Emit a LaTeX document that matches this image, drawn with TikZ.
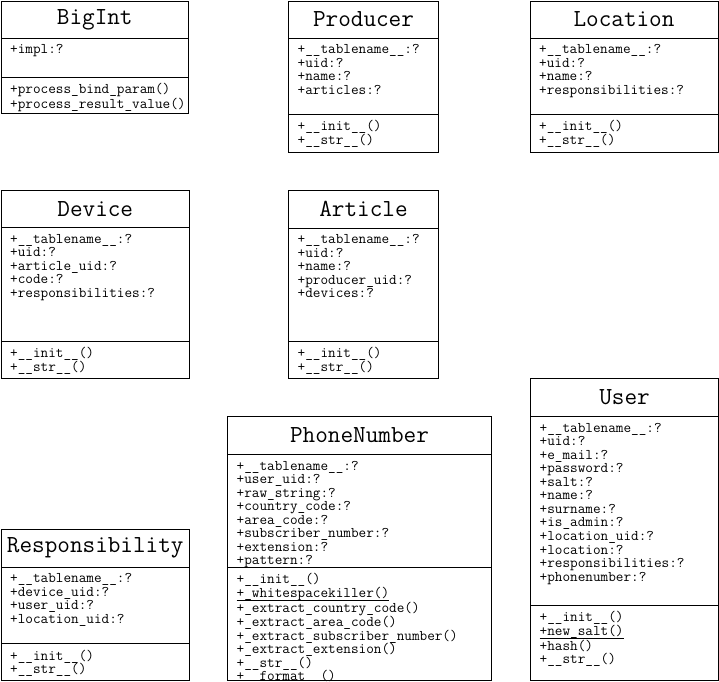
\documentclass[tikz,border=0pt]{standalone}
\usepackage{fontspec}
\newcommand{\headfont}{\fontsize{24.5}{28}\selectfont\ttfamily}
\newcommand{\entryfont}{\fontsize{14.8}{13.55}\selectfont\ttfamily}
% underline at the height of the underscores
\newcommand{\classop}[1]{\setbox0=\hbox{#1}\rlap{\vrule width\wd0 height -3.0pt depth 3.7pt}\box0}
\begin{document}
\begin{tikzpicture}[x=1pt,y=-1pt]
\tikzset{head/.style={draw, rectangle, outer sep=0pt, inner sep=0pt, anchor=north west, font=\headfont},
  compart/.style={draw, rectangle, outer sep=0pt, inner sep=0pt, anchor=north west},
  entries/.style={anchor=north west, align=left, inner xsep=9pt, inner ysep=6.3pt, font=\entryfont, execute at begin node=\strut}}
    \useasboundingbox (0,0) rectangle (719,681);

    % BigInt
    \node[head, minimum width=187.5, minimum height=37] at (1,1) (bigint) {BigInt};
    \node[compart, minimum width=187.5, minimum height=39] at (bigint.south west) (bigint-attrs) {};
    \node[compart, minimum width=187.5, minimum height=36] at (bigint-attrs.south west) (bigint-ops) {};
    \node[entries] at (bigint-attrs.north west) {+impl:?};
    \node[entries] at (bigint-ops.north west) {+process\_bind\_param()\\+process\_result\_value()};

    % Producer
    \node[head, minimum width=150, minimum height=37] at (288.5,1) (producer) {Producer};
    \node[compart, minimum width=150, minimum height=76] at (producer.south west) (producer-attrs) {};
    \node[compart, minimum width=150, minimum height=38] at (producer-attrs.south west) (producer-ops) {};
    \node[entries] at (producer-attrs.north west) {+\_\_tablename\_\_:?\\+uid:?\\+name:?\\+articles:?};
    \node[entries] at (producer-ops.north west) {+\_\_init\_\_()\\+\_\_str\_\_()};

    % Location
    \node[head, minimum width=188, minimum height=37] at (530,1) (location) {Location};
    \node[compart, minimum width=188, minimum height=76] at (location.south west) (location-attrs) {};
    \node[compart, minimum width=188, minimum height=38] at (location-attrs.south west) (location-ops) {};
    \node[entries] at (location-attrs.north west) {+\_\_tablename\_\_:?\\+uid:?\\+name:?\\+responsibilities:?};
    \node[entries] at (location-ops.north west) {+\_\_init\_\_()\\+\_\_str\_\_()};

    % Device
    \node[head, minimum width=188.5, minimum height=37.5] at (1,190) (device) {Device};
    \node[compart, minimum width=188.5, minimum height=113.5] at (device.south west) (device-attrs) {};
    \node[compart, minimum width=188.5, minimum height=37.5] at (device-attrs.south west) (device-ops) {};
    \node[entries] at (device-attrs.north west) {+\_\_tablename\_\_:?\\+uid:?\\+article\_uid:?\\+code:?\\+responsibilities:?};
    \node[entries] at (device-ops.north west) {+\_\_init\_\_()\\+\_\_str\_\_()};

    % Article
    \node[head, minimum width=150, minimum height=38] at (288.5,190) (article) {Article};
    \node[compart, minimum width=150, minimum height=113] at (article.south west) (article-attrs) {};
    \node[compart, minimum width=150, minimum height=37.5] at (article-attrs.south west) (article-ops) {};
    \node[entries] at (article-attrs.north west) {+\_\_tablename\_\_:?\\+uid:?\\+name:?\\+producer\_uid:?\\+devices:?};
    \node[entries] at (article-ops.north west) {+\_\_init\_\_()\\+\_\_str\_\_()};

    % PhoneNumber
    \node[head, minimum width=264, minimum height=38] at (227.5,416.5) (phonenumber) {PhoneNumber};
    \node[compart, minimum width=264, minimum height=112.5] at (phonenumber.south west) (phonenumber-attrs) {};
    \node[compart, minimum width=264, minimum height=113] at (phonenumber-attrs.south west) (phonenumber-ops) {};
    \node[entries] at (phonenumber-attrs.north west) {+\_\_tablename\_\_:?\\+user\_uid:?\\+raw\_string:?\\+country\_code:?\\+area\_code:?\\+subscriber\_number:?\\+extension:?\\+pattern:?};
    \node[entries, inner ysep=6pt] at (phonenumber-ops.north west) {+\_\_init\_\_()\\\classop{+\_whitespacekiller()}\\+\_extract\_country\_code()\\+\_extract\_area\_code()\\+\_extract\_subscriber\_number()\\+\_extract\_extension()\\+\_\_str\_\_()\\+\_\_format\_\_()};

    % Responsibility
    \node[head, minimum width=188.5, minimum height=38] at (1,529) (responsibility) {Responsibility};
    \node[compart, minimum width=188.5, minimum height=76.5] at (responsibility.south west) (responsibility-attrs) {};
    \node[compart, minimum width=188.5, minimum height=36.5] at (responsibility-attrs.south west) (responsibility-ops) {};
    \node[entries] at (responsibility-attrs.north west) {+\_\_tablename\_\_:?\\+device\_uid:?\\+user\_uid:?\\+location\_uid:?};
    \node[entries] at (responsibility-ops.north west) {+\_\_init\_\_()\\+\_\_str\_\_()};

    % User
    \node[head, minimum width=188, minimum height=38] at (530.5,378.5) (user) {User};
    \node[compart, minimum width=188, minimum height=188.5] at (user.south west) (user-attrs) {};
    \node[compart, minimum width=188, minimum height=75] at (user-attrs.south west) (user-ops) {};
    \node[entries] at (user-attrs.north west) {+\_\_tablename\_\_:?\\+uid:?\\+e\_mail:?\\+password:?\\+salt:?\\+name:?\\+surname:?\\+is\_admin:?\\+location\_uid:?\\+location:?\\+responsibilities:?\\+phonenumber:?};
    \node[entries] at (user-ops.north west) {+\_\_init\_\_()\\\classop{+new\_salt()}\\+hash()\\+\_\_str\_\_()};

  \end{tikzpicture}
\end{document}
